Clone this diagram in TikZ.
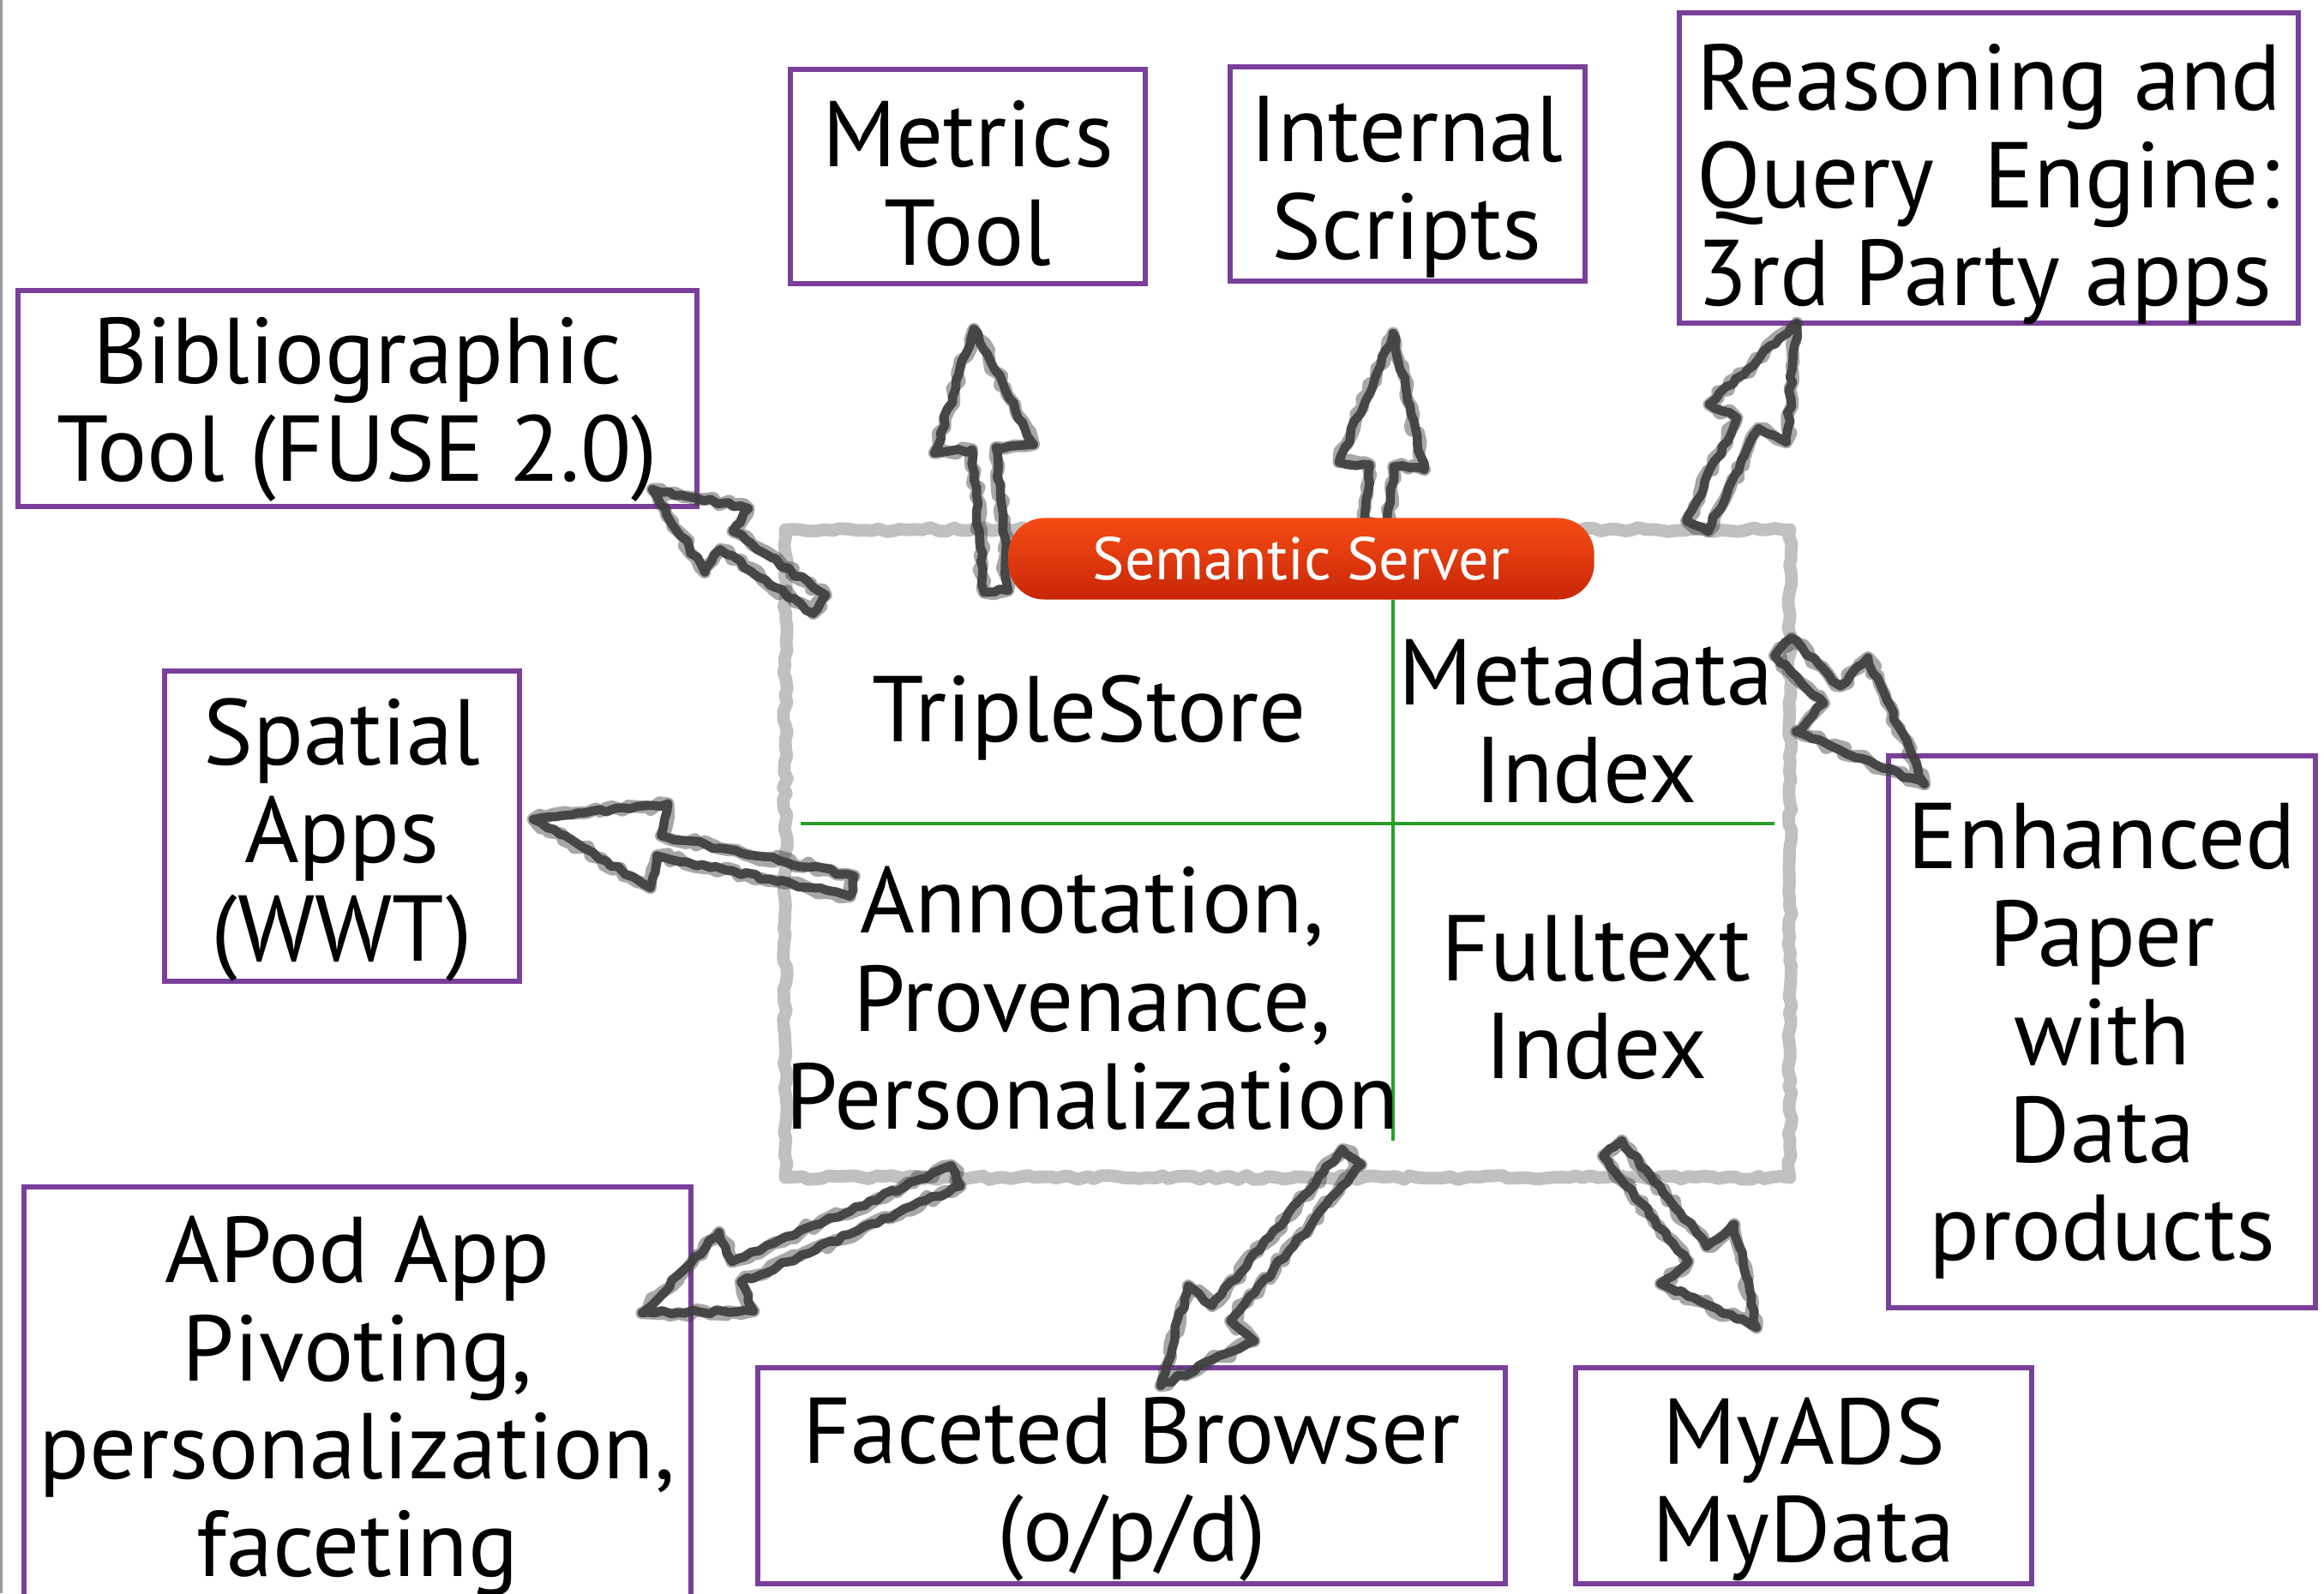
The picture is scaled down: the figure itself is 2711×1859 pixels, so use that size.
\documentclass[tikz,border=0pt]{standalone}
\usepackage{fontspec}
\setmainfont{PT Sans}
\usetikzlibrary{calc,decorations.pathmorphing}

\definecolor{boxpurple}{RGB}{122,63,155}
\definecolor{gridgreen}{RGB}{40,160,40}
\definecolor{framegray}{RGB}{192,192,192}
\definecolor{arrowgray}{RGB}{62,62,62}
\definecolor{pilltop}{RGB}{246,76,20}
\definecolor{pillbottom}{RGB}{200,38,8}

\tikzset{
  bigtext/.style={font=\fontsize{31}{32.5}\selectfont, align=center, inner sep=0pt},
  tbox/.style={draw=boxpurple, line width=1.7pt, inner sep=0pt},
  sketchframe/.style={draw=framegray, line width=4.2pt, line join=round,
    decorate, decoration={random steps, segment length=2.5pt, amplitude=0.7pt}},
  gridline/.style={draw=gridgreen, line width=1pt},
}

% hollow hand-drawn block arrow: #1 tail, #2 tip, #3 half shaft width,
% #4 half head width, #5 head length
\newcommand\hollowarrow[5]{%
  \path ($(#2)!#5!(#1)$) coordinate (hb);
  \foreach \amp/\lw/\op in {1.3pt/4.2pt/0.45, 0.7pt/3pt/0.92}{
    \draw[draw=arrowgray, line width=\lw, opacity=\op, line join=round,
          decorate, decoration={random steps, segment length=2.5pt, amplitude=\amp}]
      ($(#1)!#3!90:(#2)$) -- ($(hb)!#3!90:(#2)$) -- ($(hb)!#4!90:(#2)$) -- (#2)
      -- ($(hb)!#4!-90:(#2)$) -- ($(hb)!#3!-90:(#2)$) -- ($(#1)!#3!-90:(#2)$) -- cycle;
  }
}

\begin{document}
\begin{tikzpicture}[x=0.01cm, y=-0.01cm]
\pgfmathsetseed{7}
\useasboundingbox (0,0) rectangle (2711,1859);
\clip (0,0) rectangle (2711,1859);
\fill[white] (0,0) rectangle (2711,1859);
\draw[gray!80, line width=1.2pt] (1,0) -- (1,1859);

% application boxes
\node[tbox, minimum width=4.14cm, minimum height=2.49cm] (metrics) at (1129,206) {};
\node[bigtext] (metricstxt) at (1129,214) {Metrics\\Tool};
\node[tbox, minimum width=4.13cm, minimum height=2.49cm] (scripts) at (1642,203) {};
\node[bigtext] (scriptstxt) at (1641,218) {Internal\\Scripts};
\node[tbox, minimum width=7.21cm, minimum height=3.61cm] (reason) at (2320,196) {};
\node[bigtext, align=left, anchor=west] (reasontxt) at (1979,215) {Reasoning and\\Query\ \ Engine:\\3rd Party apps};
\node[tbox, minimum width=7.92cm, minimum height=2.51cm] (biblio) at (417,465) {};
\node[bigtext] (bibliotxt) at (417,478) {Bibliographic\\Tool (FUSE 2.0)};
\node[tbox, minimum width=4.13cm, minimum height=3.62cm] (spatial) at (399,964) {};
\node[bigtext] (spatialtxt) at (399,980) {Spatial\\Apps\\(WWT)};
\node[tbox, minimum width=4.98cm, minimum height=6.43cm] (enhanced) at (2452,1204) {};
\node[bigtext] (enhancedtxt) at (2452,1215) {Enhanced\\Paper\\with\\Data\\products};
\node[tbox, minimum width=7.78cm, minimum height=5.3cm] (apod) at (417,1650) {};
\node[bigtext] (apodtxt) at (417,1641) {APod App\\Pivoting,\\personalization,\\faceting};
\node[tbox, minimum width=8.71cm, minimum height=2.51cm] (faceted) at (1320,1722) {};
\node[bigtext] (facetedtxt) at (1320,1738) {Faceted Browser\\(o/p/d)};
\node[tbox, minimum width=5.32cm, minimum height=2.51cm] (myads) at (2104,1722) {};
\node[bigtext] (myadstxt) at (2104,1738) {MyADS\\MyData};

% semantic server frame and its four quadrants
\coordinate (frameNW) at (916,618);
\coordinate (frameSE) at (2088,1374);
\draw[sketchframe] (frameNW) rectangle (frameSE);
\coordinate (vtop) at (1625,700);
\coordinate (vbot) at (1625,1331);
\coordinate (hleft) at (934,961);
\coordinate (hright) at (2070,961);
\draw[gridline] (vtop) -- (vbot);
\draw[gridline] (hleft) -- (hright);

\node[bigtext] (triple) at (1271,838) {TripleStore};
\node[bigtext] (metaidx) at (1850,842) {Metadata\\Index};
\node[bigtext] (annot) at (1274,1165) {Annotation,\\Provenance,\\Personalization};
\node[bigtext] (fullidx) at (1862,1164) {Fulltext\\Index};

% arrows out of the server
\coordinate (t1) at (1162,690);  \coordinate (p1) at (1136,384);
\coordinate (t2) at (1606,610);  \coordinate (p2) at (1625,389);
\coordinate (t3) at (1980,614);  \coordinate (p3) at (2096,377);
\coordinate (t4) at (956,705);   \coordinate (p4) at (761,571);
\coordinate (t5) at (994,1034);  \coordinate (p5) at (622,956);
\coordinate (t6) at (2080,755);  \coordinate (p6) at (2245,915);
\coordinate (t7) at (1115,1372); \coordinate (p7) at (749,1532);
\coordinate (t8) at (1577,1350); \coordinate (p8) at (1354,1617);
\coordinate (t9) at (1881,1340); \coordinate (p9) at (2049,1549);

\hollowarrow{t1}{p1}{0.14cm}{0.58cm}{1.4cm}
\hollowarrow{t2}{p2}{0.14cm}{0.5cm}{1.55cm}
\hollowarrow{t3}{p3}{0.14cm}{0.5cm}{1.3cm}
\hollowarrow{t4}{p4}{0.13cm}{0.45cm}{1.05cm}
\hollowarrow{t5}{p5}{0.12cm}{0.5cm}{1.5cm}
\hollowarrow{t6}{p6}{0.14cm}{0.6cm}{1.5cm}
\hollowarrow{t7}{p7}{0.13cm}{0.5cm}{1.2cm}
\hollowarrow{t8}{p8}{0.14cm}{0.5cm}{1.1cm}
\hollowarrow{t9}{p9}{0.14cm}{0.55cm}{1.1cm}

% title pill
\node[rounded corners=0.42cm, top color=pilltop, bottom color=pillbottom,
      minimum width=6.83cm, minimum height=0.95cm, inner sep=0pt,
      text=white, font=\fontsize{20}{22}\selectfont] (server) at (1518,652) {Semantic Server};
\end{tikzpicture}
\end{document}
